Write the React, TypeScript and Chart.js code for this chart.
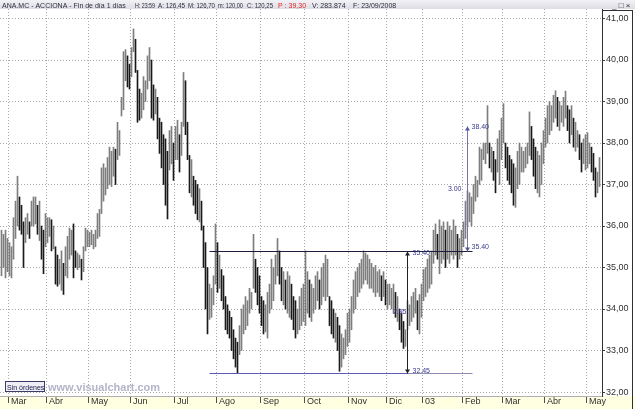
import React, { useEffect, useRef } from "react";
import { Chart, registerables } from "chart.js";
Chart.register(...registerables);

// Daily highs / lows, late Feb 2002 .. early May 2003 (one value per session)
const highs = [
  35.9, 35.8, 35.9, 35.7, 35.6, 35.5, 36.2, 36.6, 37.2, 36.7,
  36.5, 36.1, 36.2, 36.3, 36.1, 36.6, 36.7, 36.7, 36.5, 36.6,
  36.0, 35.9, 36.3, 36.2, 36.2, 36.15, 36.0, 35.5, 35.3, 35.2,
  35.4, 35.1, 35.5, 35.75, 35.95, 35.9, 36.05, 35.4, 35.35, 35.3,
  35.2, 35.5, 35.95, 35.9, 35.85, 35.9, 35.8, 35.9, 36.3, 36.4,
  37.4, 37.5, 37.4, 37.65, 37.9, 37.8, 37.9, 37.85, 38.5, 38.3,
  39.1, 40.2, 40.25, 40.1, 39.9, 40.3, 40.75, 40.5, 39.75, 39.3,
  39.2, 39.6, 39.5, 40.1, 40.3, 40.0, 39.4, 39.3, 39.1, 38.6,
  38.5, 38.2, 38.1, 37.8, 38.3, 38.4, 38.0, 38.4, 38.55, 38.2,
  38.5, 39.7, 39.5, 38.5, 37.7, 37.6, 37.2, 37.1, 37.0, 36.9,
  36.6, 36.0, 35.6, 35.0, 34.6, 34.5, 34.8, 36.05, 35.6, 35.3,
  34.95, 34.8, 34.3, 34.1, 33.95, 33.8, 33.5, 33.3, 33.2, 33.6,
  34.0, 34.1, 34.3, 34.2, 34.5, 34.4, 35.8, 35.2, 35.0, 34.8,
  34.3, 34.2, 34.1, 34.4, 34.6, 35.2, 35.0, 35.3, 35.7, 35.4,
  35.0, 34.9, 34.7, 34.9, 34.8, 34.6, 34.3, 34.2, 34.0, 34.3,
  34.5, 34.6, 35.4, 34.9, 34.7, 34.6, 34.5, 34.8, 34.9, 34.7,
  35.0, 35.1, 35.3, 35.2, 34.3, 34.2, 34.0, 33.9, 33.8, 33.6,
  33.4, 33.3, 33.5, 33.9, 34.0, 34.3, 34.7, 34.9, 35.0, 35.1,
  35.2, 35.4, 35.35, 35.3, 35.2, 35.1, 35.0, 35.05, 34.9, 34.95,
  34.8, 34.9, 34.7, 34.6, 34.6, 34.5, 34.6, 34.4, 34.3, 34.0,
  33.9, 33.7, 33.5, 34.2, 34.1, 34.3, 34.4, 34.5, 34.2, 34.35,
  34.6, 34.95, 35.0, 35.2, 35.3, 35.4, 35.9, 36.05, 35.8, 36.15,
  36.0, 36.1, 35.9, 36.1, 36.0, 35.9, 36.15, 36.0, 35.8, 35.7,
  35.9, 36.1, 36.6, 36.85, 36.8, 36.7, 37.0, 37.2, 37.1, 37.9,
  37.85, 38.0, 38.0, 38.9, 38.0, 37.9, 37.8, 37.6, 38.1, 38.3,
  38.6, 38.95, 38.0, 37.9, 37.7, 37.6, 37.5, 37.4, 37.8, 38.0,
  37.9, 37.8, 37.9, 38.0, 38.75, 38.4, 38.1, 37.9, 37.8, 37.7,
  38.0, 38.3, 38.6, 38.9, 39.0, 38.9, 39.15, 39.26, 39.1, 39.0,
  38.9, 39.1, 39.25, 38.9, 38.8, 38.9, 38.6, 38.5, 38.3, 38.2,
  38.0, 38.1, 38.2, 38.25, 38.0, 37.9, 37.75, 37.4, 37.3, 37.65,
];
const lows = [
  34.8, 35.0, 34.75, 34.9, 34.8, 34.75, 35.2, 35.7, 36.0, 35.9,
  35.8, 35.0, 35.6, 35.8, 35.7, 36.0, 36.0, 36.05, 35.8, 35.65,
  35.2, 34.85, 35.5, 35.6, 35.75, 35.4, 35.45, 34.6, 34.55, 34.6,
  34.45, 34.35, 34.8, 34.75, 35.2, 35.3, 34.75, 35.0, 34.95, 35.0,
  34.7, 34.9, 35.4, 35.5, 35.5, 35.55, 35.45, 35.5, 35.7, 35.75,
  36.3, 36.6, 36.75, 36.9, 37.0, 36.95, 37.2, 37.0, 37.6, 37.7,
  38.65, 38.8, 39.5, 39.35, 39.3, 39.6, 40.2, 39.7, 38.5, 38.55,
  38.6, 38.8, 39.0, 39.3, 39.5, 38.6, 38.55, 38.7, 38.1, 37.75,
  37.4, 37.0, 36.5, 36.17, 37.35, 37.5, 37.1, 37.6, 37.6, 37.3,
  37.7, 38.4, 38.2, 37.6, 36.8, 36.7, 36.5, 36.3, 36.15, 36.1,
  35.9, 35.0, 34.0, 33.4, 33.75, 33.8, 34.1, 34.6, 34.4, 34.5,
  34.2, 34.0, 33.5, 33.4, 33.3, 33.0, 32.8, 32.6, 32.45, 32.9,
  33.0, 33.4, 33.5, 33.6, 33.9, 34.0, 34.5, 34.4, 34.1, 33.9,
  33.6, 33.4, 33.45, 33.3, 33.9, 34.0, 34.2, 34.6, 34.8, 34.6,
  34.2, 34.1, 34.0, 33.9, 33.8, 33.75, 33.5, 33.3, 33.4, 33.5,
  33.6, 33.7, 33.6, 33.9, 33.8, 33.7, 33.9, 34.0, 34.2, 34.0,
  34.1, 34.3, 34.2, 34.3, 33.6, 33.4, 33.3, 33.2, 33.0, 32.5,
  32.6, 32.8, 32.9, 33.1, 33.2, 33.5, 33.9, 34.0, 34.3, 34.4,
  34.5, 34.6, 34.7, 34.6, 34.5, 34.5, 34.4, 34.3, 34.4, 34.3,
  34.2, 34.3, 34.1, 34.0, 34.1, 34.0, 33.9, 33.8, 33.7, 33.5,
  33.2, 33.05, 33.1, 33.5, 33.6, 33.7, 33.8, 33.9, 33.5, 33.4,
  33.8, 34.2, 34.3, 34.4, 34.5, 34.6, 35.1, 35.3, 35.2, 34.85,
  35.1, 35.2, 35.0, 35.2, 35.1, 35.3, 35.2, 35.3, 35.0, 35.2,
  35.3, 35.5, 35.7, 36.0, 36.1, 36.0, 36.3, 36.6, 36.7, 37.0,
  37.1, 37.6, 37.5, 37.75, 37.4, 37.3, 37.1, 36.8, 37.3, 37.0,
  37.6, 38.0, 37.4, 37.1, 37.0, 36.8, 36.5, 36.45, 36.9, 37.0,
  37.3, 37.3, 37.4, 37.5, 37.7, 37.6, 37.2, 36.9, 36.8, 36.7,
  37.0, 37.5, 37.9, 38.0, 38.2, 38.3, 38.5, 38.6, 38.4, 38.3,
  38.5, 38.4, 38.6, 38.3, 38.0, 38.2, 37.9, 37.8, 37.9, 37.6,
  37.3, 37.5, 37.35, 37.4, 37.5, 37.3, 37.1, 36.7, 36.8, 36.95,
];

const monthStarts = [4, 23, 44, 65, 87, 108, 130, 152, 174, 193, 211, 231, 251, 272, 293];
const monthLabels = ["Mar", "Abr", "May", "Jun", "Jul", "Ago", "Sep", "Oct", "Nov", "Dic", "03", "Feb", "Mar", "Abr", "May"];
const priceTicks = [32, 33, 34, 35, 36, 37, 38, 39, 40, 41];

// Annotation levels (prices) and the sessions they are anchored to
const resistance = 35.4;
const support = 32.45;
const target = 38.4;
const lineFrom = 104;
const lineTo = 235.5;
const rangeAt = 202.5;
const breakoutAt = 233;
const rangeText = "2.95";
const moveText = "3.00";

// Header fields: text, colour, left position and width of its slot in the header strip
const headerFields: [string, string, number, number][] = [
  ["ANA.MC - ACCIONA - Fin de día 1 días", "#2c2c3c", 2, 130],
  ["H: 23:59", "#2c2c3c", 135, 20],
  ["A: 126,45", "#2c2c3c", 158, 27],
  ["M: 126,70", "#2c2c3c", 188, 27],
  ["m: 120,00", "#2c2c3c", 218, 25],
  ["C: 120,25", "#2c2c3c", 247, 26],
  ["P : 39,30", "#e02424", 278, 30],
  ["V: 283.874", "#2c2c3c", 312, 38],
  ["F: 23/09/2008", "#2c2c3c", 353, 44],
];

const FONT = '"Liberation Sans", Arial, sans-serif';

export default function App() {
  const ref = useRef<HTMLCanvasElement>(null);

  useEffect(() => {
    const canvas = ref.current;
    if (!canvas) return;

    const mids = highs.map((h, i) => (h + lows[i]) / 2);
    const colors = mids.map((m, i) => (i > 0 && m < mids[i - 1] - 0.12 ? "#1a1a1a" : "#7e7e7e"));

    const decor = {
      id: "decor",
      beforeDraw(chart: any) {
        const { ctx, width, height, chartArea } = chart;
        ctx.save();
        ctx.fillStyle = "#ffffff";
        ctx.fillRect(0, 0, width, height);
        const g = ctx.createLinearGradient(0, 0, 0, 9);
        g.addColorStop(0, "#f2f2f6");
        g.addColorStop(1, "#dcdce4");
        ctx.fillStyle = g;
        ctx.fillRect(0, 0, width, 9);
        ctx.fillStyle = "#ffffe1";
        ctx.fillRect(0, chartArea.bottom, width, height - chartArea.bottom);
        ctx.restore();
      },
      afterDatasetsDraw(chart: any) {
        const { ctx } = chart;
        const xs = chart.scales.x;
        const ys = chart.scales.y;
        const X = (v: number) => Math.round(xs.getPixelForValue(v)) + 0.5;
        const Y = (v: number) => Math.round(ys.getPixelForValue(v)) + 0.5;
        const line = (x1: number, y1: number, x2: number, y2: number, c: string) => {
          ctx.strokeStyle = c;
          ctx.lineWidth = 1;
          ctx.beginPath();
          ctx.moveTo(x1, y1);
          ctx.lineTo(x2, y2);
          ctx.stroke();
        };
        const arrow = (x: number, y: number, dir: number, c: string) => {
          ctx.fillStyle = c;
          ctx.beginPath();
          ctx.moveTo(x, y);
          ctx.lineTo(x - 2.5, y - dir * 4);
          ctx.lineTo(x + 2.5, y - dir * 4);
          ctx.closePath();
          ctx.fill();
        };
        ctx.save();
        line(X(lineFrom), Y(resistance), X(lineTo), Y(resistance), "#1c1c3c");
        line(X(lineFrom), Y(support), X(rangeAt), Y(support), "#5c5cb8");
        line(X(rangeAt), Y(support), X(lineTo), Y(support), "#8c8cb4");
        line(X(rangeAt), Y(support), X(rangeAt), Y(resistance), "#202028");
        arrow(X(rangeAt), Y(resistance), -1, "#202028");
        arrow(X(rangeAt), Y(support), 1, "#202028");
        line(X(breakoutAt), Y(resistance), X(breakoutAt), Y(target), "#7474a8");
        arrow(X(breakoutAt), Y(target), -1, "#5454a0");
        arrow(X(breakoutAt), Y(resistance), 1, "#5454a0");

        ctx.font = `7px ${FONT}`;
        ctx.fillStyle = "#3a3a90";
        ctx.textBaseline = "middle";
        ctx.textAlign = "left";
        ctx.fillText(resistance.toFixed(2), X(rangeAt) + 5, Y(resistance) + 2);
        ctx.fillText(support.toFixed(2), X(rangeAt) + 5, Y(support) - 2);
        ctx.fillText(target.toFixed(2), X(breakoutAt) + 4, Y(target) + 1);
        ctx.fillText(resistance.toFixed(2), X(breakoutAt) + 4, Y(resistance) - 4);
        ctx.textAlign = "right";
        ctx.fillText(rangeText, X(rangeAt) - 1, Y((support + resistance) / 2));
        ctx.fillText(moveText, X(breakoutAt) - 6, Y((resistance + target) / 2));
        ctx.restore();
      },
      afterDraw(chart: any) {
        const { ctx, height, chartArea } = chart;
        ctx.save();
        ctx.font = `7px ${FONT}`;
        ctx.textBaseline = "alphabetic";
        ctx.textAlign = "left";
        for (const [t, c, x, w] of headerFields) {
          ctx.fillStyle = c;
          ctx.fillText(t, x, 8, w);
        }
        ctx.fillStyle = "#303030";
        ctx.font = `8px ${FONT}`;
        ctx.fillText("_ □ ×", 612, 8);
        ctx.strokeStyle = "#303030";
        ctx.lineWidth = 1;
        ctx.beginPath();
        ctx.moveTo(632.5, 10);
        ctx.lineTo(632.5, height);
        ctx.moveTo(chartArea.right, 10.5);
        ctx.lineTo(632.5, 10.5);
        ctx.stroke();
        ctx.fillStyle = "#eeeef4";
        ctx.fillRect(5, 381, 40, 11);
        ctx.strokeStyle = "#3c3c68";
        ctx.strokeRect(5.5, 381.5, 39, 10);
        ctx.fillStyle = "#202050";
        ctx.font = `7px ${FONT}`;
        ctx.fillText("Sin órdenes", 7, 389.5);
        ctx.fillStyle = "#b4b4ca";
        ctx.font = `bold 11px ${FONT}`;
        ctx.fillText("www.visualchart.com", 48, 391);
        ctx.restore();
      },
    };

    const chart = new Chart(canvas, {
      type: "bar",
      data: {
        datasets: [
          {
            data: highs.map((h, i) => ({ x: i, y: [lows[i], h] })) as any,
            backgroundColor: colors,
            borderWidth: 0,
            barThickness: 1,
            grouped: false,
          } as any,
        ],
      },
      options: {
        responsive: false,
        animation: false,
        devicePixelRatio: 1,
        layout: { autoPadding: false, padding: { top: 9, right: 3, left: 0, bottom: 0 } },
        plugins: { legend: { display: false }, tooltip: { enabled: false }, title: { display: false } },
        scales: {
          x: {
            type: "linear",
            offset: false,
            min: -0.75,
            max: 300.25,
            afterBuildTicks: (s: any) => {
              s.ticks = monthStarts.map((v) => ({ value: v - 0.5 }));
            },
            afterFit: (s: any) => {
              s.height = 13;
              s.paddingLeft = 0;
              s.paddingRight = 0;
            },
            ticks: {
              callback: (_v: any, i: number) => " " + monthLabels[i],
              align: "start",
              maxRotation: 0,
              autoSkip: false,
              padding: -7,
              color: "#303030",
              font: { family: FONT, size: 9 },
            },
            grid: { offset: false, color: "#a8a8a8", lineWidth: 1, drawTicks: true, tickLength: 7, tickColor: "#505050" },
            border: { display: true, color: "#b0b0b0", dash: [1, 2] },
          },
          y: {
            position: "right",
            min: 31.904,
            max: 41.229,
            afterBuildTicks: (s: any) => {
              s.ticks = priceTicks.map((v) => ({ value: v }));
            },
            afterFit: (s: any) => {
              s.width = 30;
              s.paddingTop = 0;
              s.paddingBottom = 0;
            },
            ticks: {
              callback: (v: any) => Number(v).toFixed(2).replace(".", ","),
              padding: 1,
              color: "#303030",
              font: { family: FONT, size: 9 },
            },
            grid: { color: "#a8a8a8", lineWidth: 1, drawTicks: true, tickLength: 3, tickColor: "#404040" },
            border: { display: true, color: "#303030", dash: [1, 2] },
          },
        },
      } as any,
      plugins: [decor],
    });

    return () => chart.destroy();
  }, []);

  return (
    <div style={{ position: "fixed", left: 0, top: 0, width: 635, height: 409 }}>
      <canvas ref={ref} width={635} height={409} style={{ display: "block", width: 635, height: 409 }} />
    </div>
  );
}
